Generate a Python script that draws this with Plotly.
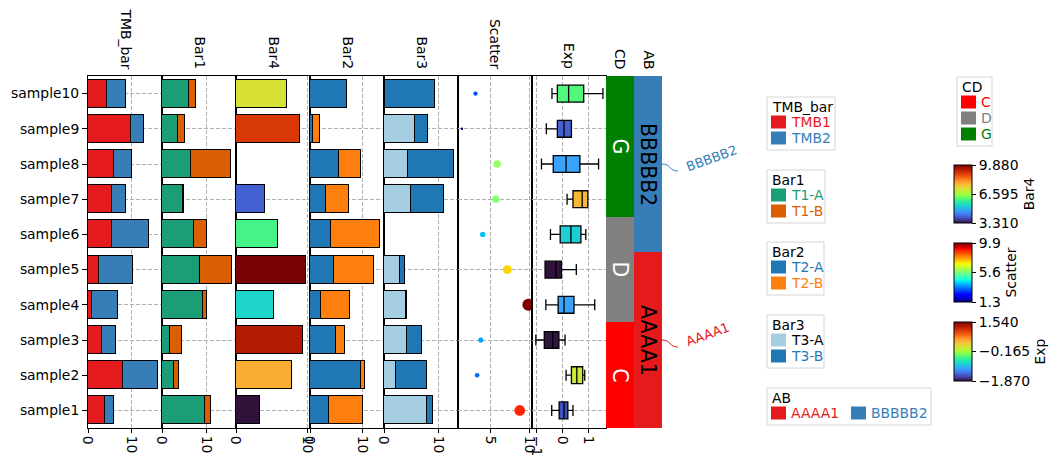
import numpy as np
import plotly.graph_objects as go
from plotly.subplots import make_subplots
from plotly.colors import sample_colorscale

OFF = 8  # page body margin compensation
W, H = 1062 - OFF, 468 - OFF
FONT = "DejaVu Sans"
FS = 13.9

# ---------------- data (sample1 ... sample10) ----------------
samples = [f"sample{i}" for i in range(1, 11)]
tmb1 = [4.0, 8.1, 3.2, 0.85, 2.5, 5.6, 5.6, 6.0, 9.9, 4.4]
tmb2 = [1.9, 8.2, 3.3, 6.1, 8.0, 8.4, 3.3, 4.1, 3.1, 4.5]
t1a = [9.6, 2.6, 1.7, 9.2, 8.5, 7.15, 4.65, 6.5, 3.5, 6.0]
t1b = [1.35, 1.1, 2.7, 0.9, 7.2, 2.9, 0.3, 8.9, 1.6, 1.6]
bar4 = [3.31, 7.8, 9.4, 5.3, 9.88, 5.9, 4.05, None, 8.95, 7.15]
t2a = [3.6, 9.8, 5.0, 2.1, 4.6, 4.0, 3.0, 5.5, 0.65, 7.1]
t2b = [6.6, 0.8, 1.7, 5.6, 7.7, 9.5, 4.5, 4.3, 1.2, 0.0]
t3a = [7.9, 2.2, 4.2, 3.95, 2.9, None, 4.9, 4.4, 5.7, 0.2]
t3b = [1.1, 5.7, 2.8, 0.25, 1.0, None, 6.0, 8.5, 2.4, 9.2]
scatter_v = [8.79, 3.28, 3.75, 9.9, 7.2, 4.0, 5.69, 5.86, 1.3, 3.06]
exp_low = [-0.42, 0.14, -1.04, -0.65, -0.68, -0.47, 0.18, -0.82, -0.63, -0.41]
exp_q1 = [-0.13, 0.35, -0.71, -0.17, -0.68, -0.09, 0.41, -0.36, -0.20, -0.20]
exp_med = [0.06, 0.56, -0.38, 0.06, -0.26, 0.33, 0.77, 0.14, 0.06, 0.24]
exp_q3 = [0.21, 0.79, -0.14, 0.45, -0.04, 0.72, 0.99, 0.68, 0.35, 0.83]
exp_high = [0.41, 0.87, 0.10, 1.26, 0.54, 0.91, 0.99, 1.41, 0.35, 1.58]
exp_color = [-1.56, 0.04, -1.85, -1.14, -1.87, -0.90, 0.40, -1.14, -1.49, -0.47]
cd = ['C', 'C', 'C', 'D', 'D', 'D', 'G', 'G', 'G', 'G']
ab = ['AAAA1'] * 5 + ['BBBBB2'] * 5

bar4_range = (3.31, 9.88)
scatter_range = (1.3, 9.9)
exp_range = (-1.87, 1.54)

col_titles = ["TMB_bar", "Bar1", "Bar4", "Bar2", "Bar3", "Scatter", "Exp", "CD", "AB"]

# ---------------- colours ----------------
c_tmb = {"TMB1": "#e41a1c", "TMB2": "#377eb8"}
c_bar1 = {"T1-A": "#1b9e77", "T1-B": "#d95f02"}
c_bar2 = {"T2-A": "#1f77b4", "T2-B": "#ff7f0e"}
c_bar3 = {"T3-A": "#a6cee3", "T3-B": "#1f78b4"}
c_cd = {"C": "#ff0000", "D": "#808080", "G": "#008000"}
c_ab = {"AAAA1": "#e41a1c", "BBBBB2": "#377eb8"}

turbo_hex = ["#30123b", "#4145ab", "#4675ed", "#39a2fc", "#1bcfd4", "#24eca6", "#61fc6c", "#a4fc3b",
             "#d1e834", "#f3c63a", "#fe9b2d", "#f36315", "#d93806", "#b11901", "#7a0403"]
TURBO = [[i / (len(turbo_hex) - 1), c] for i, c in enumerate(turbo_hex)]


def mpl_jet():
    r = [(0, 0), (0.35, 0), (0.66, 1), (0.89, 1), (1, 0.5)]
    g = [(0, 0), (0.125, 0), (0.375, 1), (0.64, 1), (0.91, 0), (1, 0)]
    b = [(0, 0.5), (0.11, 1), (0.34, 1), (0.65, 0), (1, 0)]
    pts = sorted(set([p for p, _ in r + g + b]))
    out = []
    for p in pts:
        rr = np.interp(p, [a for a, _ in r], [v for _, v in r])
        gg = np.interp(p, [a for a, _ in g], [v for _, v in g])
        bb = np.interp(p, [a for a, _ in b], [v for _, v in b])
        out.append([p, f"rgb({int(rr*255)},{int(gg*255)},{int(bb*255)})"])
    return out


JET = mpl_jet()

# ---------------- layout geometry (reference pixels) ----------------
edges = [88, 162, 236, 310, 384, 458, 532, 606, 634, 662]
top_px, bot_px = 76, 428


def px(x):
    return (x - OFF) / W


def py(y):
    return 1 - (y - OFF) / H


fig = make_subplots(rows=1, cols=9, shared_yaxes=True, horizontal_spacing=0)
ypos = list(range(len(samples)))
edge_line = dict(color="black", width=1)

# TMB
fig.add_bar(y=ypos, x=tmb1, orientation="h", marker=dict(color=c_tmb["TMB1"], line=edge_line), width=0.8, row=1, col=1)
fig.add_bar(y=ypos, x=tmb2, orientation="h", marker=dict(color=c_tmb["TMB2"], line=edge_line), width=0.8, row=1, col=1)
# Bar1
fig.add_bar(y=ypos, x=t1a, orientation="h", marker=dict(color=c_bar1["T1-A"], line=edge_line), width=0.8, row=1, col=2)
fig.add_bar(y=ypos, x=t1b, orientation="h", marker=dict(color=c_bar1["T1-B"], line=edge_line), width=0.8, row=1, col=2)


def cbar(title, y0, y1, tickvals, ticktext):
    return dict(title=dict(text=title, side="right", font=dict(family=FONT, size=FS, color="black")),
                x=px(954), xanchor="left", xpad=0, xref="paper",
                y=py((y0 + y1) / 2), yanchor="middle", ypad=0, yref="paper",
                len=y1 - y0, lenmode="pixels", thickness=18, thicknessmode="pixels",
                outlinewidth=1, outlinecolor="black", ticks="outside", ticklen=4,
                tickcolor="black", tickvals=tickvals, ticktext=ticktext,
                tickfont=dict(family=FONT, size=FS, color="black"))


# Bar4
fig.add_bar(y=ypos, x=bar4, orientation="h", width=0.8,
            marker=dict(color=[v if v is not None else bar4_range[0] for v in bar4], colorscale=TURBO,
                        cmin=bar4_range[0], cmax=bar4_range[1], line=edge_line, showscale=True,
                        colorbar=cbar("Bar4", 165, 223, [bar4_range[0], sum(bar4_range) / 2, bar4_range[1]],
                                      ["%.3f" % bar4_range[0], "%.3f" % (sum(bar4_range) / 2), "%.3f" % bar4_range[1]])),
            row=1, col=3)
# Bar2
fig.add_bar(y=ypos, x=t2a, orientation="h", marker=dict(color=c_bar2["T2-A"], line=edge_line), width=0.8, row=1, col=4)
fig.add_bar(y=ypos, x=t2b, orientation="h", marker=dict(color=c_bar2["T2-B"], line=edge_line), width=0.8, row=1, col=4)
# Bar3
fig.add_bar(y=ypos, x=t3a, orientation="h", marker=dict(color=c_bar3["T3-A"], line=edge_line), width=0.8, row=1, col=5)
fig.add_bar(y=ypos, x=t3b, orientation="h", marker=dict(color=c_bar3["T3-B"], line=edge_line), width=0.8, row=1, col=5)
# Scatter
fig.add_scatter(y=ypos, x=scatter_v, mode="markers",
                marker=dict(color=scatter_v, colorscale=JET, cmin=scatter_range[0], cmax=scatter_range[1],
                            size=[v * 1.1 + 1.0 for v in scatter_v], opacity=1, line=dict(width=0), showscale=True,
                            colorbar=cbar("Scatter", 243, 302, [scatter_range[0], sum(scatter_range) / 2, scatter_range[1]],
                                          ["%.1f" % scatter_range[0], "%.1f" % (sum(scatter_range) / 2), "%.1f" % scatter_range[1]])),
                row=1, col=6)
# Exp boxes
norm = [(v - exp_range[0]) / (exp_range[1] - exp_range[0]) for v in exp_color]
box_cols = sample_colorscale(TURBO, norm)
for i in range(len(samples)):
    fig.add_trace(go.Box(y=[ypos[i]], q1=[exp_q1[i]], median=[exp_med[i]], q3=[exp_q3[i]],
                         lowerfence=[exp_low[i]], upperfence=[exp_high[i]], orientation="h",
                         fillcolor=box_cols[i], line=dict(color="black", width=1.3),
                         width=0.48, whiskerwidth=0.65, boxpoints=False), row=1, col=7)
mid_exp = sum(exp_range) / 2
fig.add_scatter(x=[None], y=[None], mode="markers",
                marker=dict(color=exp_color, colorscale=TURBO, cmin=exp_range[0], cmax=exp_range[1], showscale=True,
                            colorbar=cbar("Exp", 322, 381, [exp_range[0], mid_exp, exp_range[1]],
                                          [("%.3f" % v).replace("-", "\u2212") for v in [exp_range[0], mid_exp, exp_range[1]]])),
                row=1, col=7)
# CD / AB annotation columns
fig.add_bar(y=ypos, x=[1] * len(samples), orientation="h", width=1,
            marker=dict(color=[c_cd[c] for c in cd], line=dict(width=0)), row=1, col=8)
fig.add_bar(y=ypos, x=[1] * len(samples), orientation="h", width=1,
            marker=dict(color=[c_ab[c] for c in ab], line=dict(width=0)), row=1, col=9)

fig.update_traces(showlegend=False, hoverinfo="skip")

# ---------------- axes ----------------
def rng_max(*series):
    tot = np.zeros(len(samples))
    for s in series:
        tot += np.array([v if v is not None else 0 for v in s])
    return tot.max() * 1.05


xranges = [
    [0, rng_max(tmb1, tmb2)],
    [0, rng_max(t1a, t1b)],
    [0, rng_max(bar4)],
    [0, rng_max(t2a, t2b)],
    [0, rng_max(t3a, t3b)],
    [0.8, 10.38],
    [-1.19, 1.70],
]
xticks = [[0, 10], [0, 10], [0, 10], [0, 10], [0, 10], [5, 10], [-1, 0, 1]]
grid = dict(showgrid=True, gridcolor="#b0b0b0", gridwidth=0.8, griddash="4px,2px")
for k in range(9):
    name = "xaxis" if k == 0 else f"xaxis{k+1}"
    yname = "yaxis" if k == 0 else f"yaxis{k+1}"
    dom = [px(edges[k]), px(edges[k + 1])]
    if k < 7:
        fig.layout[name].update(domain=dom, range=xranges[k], tickvals=xticks[k], ticks="outside", ticklen=4,
                                tickcolor="black", tickangle=90, showline=True, mirror=True, linecolor="black",
                                linewidth=1, zeroline=False, automargin=False,
                                tickfont=dict(family=FONT, size=FS, color="black"), **grid)
        fig.layout[yname].update(showline=True, mirror=True, linecolor="black", linewidth=1, zeroline=False,
                                 automargin=False, **grid)
    else:
        fig.layout[name].update(domain=dom, range=[0, 1], visible=False)
        fig.layout[yname].update(showgrid=False, showline=False, zeroline=False, showticklabels=False)
    fig.layout[yname].update(domain=[py(bot_px), py(top_px)])

fig.layout.yaxis.update(range=[-0.5, len(samples) - 0.5], tickvals=ypos, ticktext=samples, ticks="outside",
                        ticklen=5, tickcolor="black", tickfont=dict(family=FONT, size=FS, color="black"))

# ---------------- column titles ----------------
ann = []
for k, t in enumerate(col_titles):
    ann.append(dict(x=px((edges[k] + edges[k + 1]) / 2), y=py(71), xref="paper", yref="paper",
                    text=t, textangle=90, showarrow=False, xanchor="center", yanchor="bottom",
                    font=dict(family=FONT, size=FS, color="black")))

# group labels on CD / AB
shapes = []
for lab in c_cd:
    idx = [i for i, c in enumerate(cd) if c == lab]
    ann.append(dict(x=0.5, y=float(np.mean(idx)), xref="x8", yref="y8", text=lab, textangle=90, showarrow=False,
                    font=dict(family=FONT, size=20.5, color="white")))
for lab in c_ab:
    idx = [i for i, c in enumerate(ab) if c == lab]
    m = float(np.mean(idx))
    ann.append(dict(x=0.5, y=m, xref="x9", yref="y9", text=lab, textangle=90, showarrow=False,
                    font=dict(family=FONT, size=20.5, color="black")))
    # side label with connector
    shapes.append(dict(type="path", xref="paper", yref="y",
                       path=f"M {px(662)},{m} C {px(671)},{m} {px(669)},{m-0.2} {px(678)},{m-0.2}",
                       line=dict(color=c_ab[lab], width=1)))
    ann.append(dict(x=px(681), y=m + 0.17, xref="paper", yref="y", text=lab, textangle=-20, showarrow=False,
                    xanchor="left", yanchor="middle", font=dict(family=FONT, size=13, color=c_ab[lab])))

# ---------------- legends ----------------
legends = [
    ("TMB_bar", c_tmb, 767, 97, 835, False),
    ("Bar1", c_bar1, 767, 170, 825, False),
    ("Bar2", c_bar2, 767, 242, 824, False),
    ("Bar3", c_bar3, 767, 315, 824, False),
    ("AB", c_ab, 767, 388, 931, True),
    ("CD", c_cd, 957, 77, 992, False),
]
for title, cmap, x0, y0, x1, horiz in legends:
    n = len(cmap)
    h = 21 + 16 * (1 if horiz else n)
    shapes.append(dict(type="rect", xref="paper", yref="paper", x0=px(x0), x1=px(x1), y0=py(y0), y1=py(y0 + h),
                       line=dict(color="#d5d5d5", width=1), fillcolor="white", layer="below"))
    ann.append(dict(x=px(x0 + 3), y=py(y0 + 10), xref="paper", yref="paper", text=title, showarrow=False,
                    xanchor="left", yanchor="middle", font=dict(family=FONT, size=FS, color="black")))
    for j, (lab, col) in enumerate(cmap.items()):
        if horiz:
            xx, yy = x0 + 4 + 80 * j, y0 + 25
        else:
            xx, yy = x0 + 4, y0 + 25 + 16 * j
        shapes.append(dict(type="rect", xref="paper", yref="paper", x0=px(xx), x1=px(xx + 15),
                           y0=py(yy - 6.5), y1=py(yy + 6.5), line=dict(width=0), fillcolor=col))
        tcol = "black" if col == "#a6cee3" else col
        ann.append(dict(x=px(xx + 18), y=py(yy), xref="paper", yref="paper", text=lab, showarrow=False,
                        xanchor="left", yanchor="middle", font=dict(family=FONT, size=FS, color=tcol)))

fig.update_layout(width=W, height=H, margin=dict(l=0, r=0, t=0, b=0, autoexpand=False), barmode="stack", bargap=0,
                  plot_bgcolor="white", paper_bgcolor="white", annotations=ann, shapes=shapes,
                  font=dict(family=FONT, size=FS, color="black"), showlegend=False)

fig.write_html("out.html")
